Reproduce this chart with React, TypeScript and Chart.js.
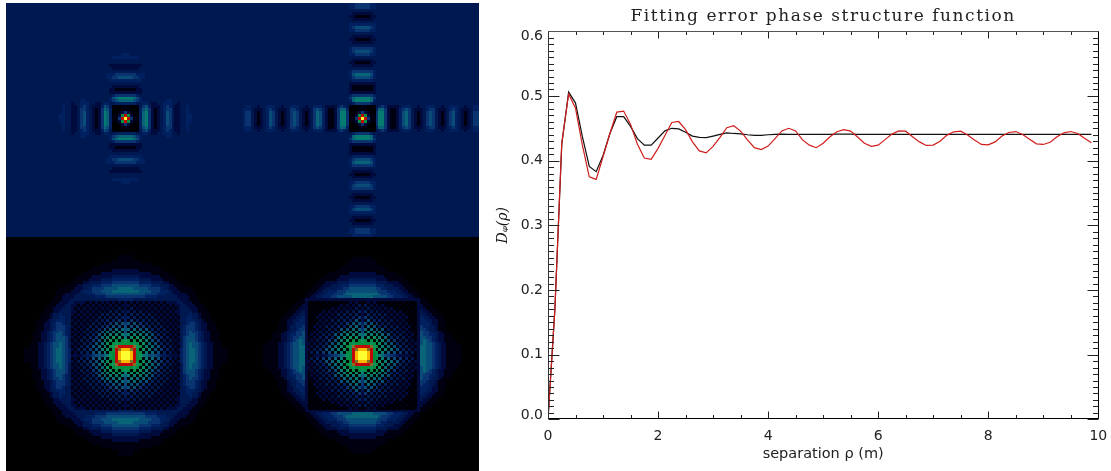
import React, { useEffect, useRef } from "react";
import { Chart, registerables } from "chart.js";

Chart.register(...registerables);

// Heat-map colour levels, indexed by the hex digit stored in the panel rows
const LEVEL_COLORS = [
  "#000000", "#000010", "#000a3c", "#001850", "#002060", "#0a3470", "#0a4c78", "#0a6478",
  "#067c70", "#089060", "#009040", "#807020", "#c00808", "#e06000", "#f8b800", "#ffff30",
];

// Panels hold one octant of each image: row a, chars for b = a, a+1, ...
const PANEL_TOP_LEFT = [
  "fc51147852123465322334433",
  "a211478521234653223344",
  "10047852123465322334",
  "00467521234553223343",
  "135642223454322334",
  "34432233444332333",
  "33333333443333",
];
const PANEL_TOP_RIGHT = [
  "fc511588521124675321235653212356432123554",
  "a211588521124675321235653212356432123554",
  "100588521124675321235653212356432123554",
  "00477521124565322234553222345432223444",
  "1345422223444332334443323344433233443",
];
const PANEL_BOTTOM_LEFT = [
  "ffeca98766654332222" + "4567765432211111000000",
  "fecaa1817161413121" + "4567765432211111000000",
  "bca09081615141312" + "4567765432211111000000",
  "b9a0807161413121" + "3567665432211100000000",
  "a09070614131212" + "3567665432211100000000",
  "90806151313121" + "3566654322111000000000",
  "8071514131212" + "3566654322111000000000",
  "706141312121" + "3456654322111000000000",
  "61413131212" + "3456554322111000000000",
  "4131312121" + "3455543221110000000000",
  "313121212" + "3455543221110000000000",
  "31212121" + "3345543221110000000000",
  "2121212" + "3344433211100000000000",
  "212121" + "3344332111000000000000",
  "21212" + "3334332111000000000000",
  "2122" + "3333221110000000000000",
  "212" + "3332221110000000000000",
  "22" + "3322211100000000000000",
  "3" + "3222111000000000000000",
  "2221110000000000000000",
  "221110000000000000000",
  "11100000000000000000",
  "1100000000000000000",
];
const PANEL_BOTTOM_RIGHT = [
  "ffeca98765543222211" + "2776654322111110000000",
  "fecaa1817161514131" + "2776654322111110000000",
  "bca09080716141312" + "2776654322111110000000",
  "b9a0807061413121" + "2776654322111110000000",
  "a09070604131212" + "2676654322111100000000",
  "90806051313121" + "2676543221111000000000",
  "8070414131211" + "2665543221110000000000",
  "706131312120" + "2655443221110000000000",
  "40413131211" + "2655433211100000000000",
  "3131212110" + "2554332111000000000000",
  "313121201" + "2544332111000000000000",
  "21212010" + "2444322111000000000000",
  "2120101" + "2443322110000000000000",
  "212010" + "2433221110000000000000",
  "20101" + "2332211100000000000000",
  "1010" + "2322111000000000000000",
  "101" + "2221110000000000000000",
  "10" + "2211100000000000000000",
  "1" + "2111000000000000000000",
  "2110000000000000000000",
];

// Phase structure function, sampled every 0.125 m
const SEPARATION = [
  0, 0.125, 0.25, 0.375, 0.5, 0.625, 0.75, 0.875, 1, 1.125, 1.25, 1.375, 1.5, 1.625, 1.75, 1.875,
  2, 2.125, 2.25, 2.375, 2.5, 2.625, 2.75, 2.875, 3, 3.125, 3.25, 3.375, 3.5, 3.625, 3.75, 3.875,
  4, 4.125, 4.25, 4.375, 4.5, 4.625, 4.75, 4.875, 5, 5.125, 5.25, 5.375, 5.5, 5.625, 5.75, 5.875,
  6, 6.125, 6.25, 6.375, 6.5, 6.625, 6.75, 6.875, 7, 7.125, 7.25, 7.375, 7.5, 7.625, 7.75, 7.875,
  8, 8.125, 8.25, 8.375, 8.5, 8.625, 8.75, 8.875, 9, 9.125, 9.25, 9.375, 9.5, 9.625, 9.75, 9.875,
];
const BLACK_CURVE = [
  0, 0.17, 0.425, 0.506, 0.489, 0.437, 0.391, 0.383, 0.408, 0.442, 0.468, 0.468, 0.453, 0.434, 0.424, 0.424,
  0.435, 0.446, 0.45, 0.449, 0.444, 0.438, 0.436, 0.4355, 0.438, 0.4405, 0.443, 0.442, 0.4415, 0.44, 0.439, 0.439,
  0.44, 0.4405, 0.441, 0.4405, 0.4405, 0.4405, 0.4405, 0.4405, 0.4405, 0.4405, 0.441, 0.441, 0.441, 0.4405, 0.4405, 0.4405,
  0.4405, 0.4405, 0.4405, 0.4405, 0.4405, 0.4405, 0.4405, 0.4405, 0.4405, 0.4405, 0.4405, 0.4405, 0.4405, 0.4405, 0.4405, 0.4405,
  0.4405, 0.4405, 0.4405, 0.4405, 0.4405, 0.4405, 0.4405, 0.4405, 0.4405, 0.4405, 0.4405, 0.4405, 0.4405, 0.4405, 0.4405, 0.4405,
];
const RED_CURVE = [
  0, 0.17, 0.427, 0.503, 0.481, 0.424, 0.375, 0.371, 0.406, 0.442, 0.475, 0.4766, 0.456, 0.4255, 0.404, 0.402,
  0.419, 0.439, 0.459, 0.4605, 0.448, 0.429, 0.415, 0.412, 0.422, 0.436, 0.451, 0.454, 0.4456, 0.432, 0.42, 0.417,
  0.4225, 0.434, 0.446, 0.45, 0.446, 0.432, 0.424, 0.42, 0.427, 0.437, 0.4446, 0.448, 0.4456, 0.4365, 0.427, 0.422,
  0.424, 0.4325, 0.441, 0.446, 0.4455, 0.437, 0.429, 0.4235, 0.424, 0.43, 0.4395, 0.4446, 0.4456, 0.4395, 0.432, 0.425,
  0.4245, 0.429, 0.438, 0.4435, 0.445, 0.4405, 0.433, 0.426, 0.425, 0.4285, 0.437, 0.443, 0.445, 0.442, 0.4345, 0.4275,
];

const TITLE = "Fitting error phase structure function";
const X_TITLE = "separation ρ (m)";
const Y_TITLE = "Dᵩ(ρ)";

type Cell = { x: number; y: number; v: number };

function panelCells(rows: string[], col0: number, row0: number, centerRow: number, bg: string): Cell[] {
  const out: Cell[] = [];
  for (let r = 0; r < 80; r++) {
    for (let c = 0; c < 80; c++) {
      const dx = Math.abs(c - 40);
      const dy = Math.abs(r - centerRow);
      const a = Math.min(dx, dy);
      const b = Math.max(dx, dy);
      const ch = rows[a]?.[b - a] ?? bg;
      out.push({ x: col0 + c + 0.5, y: row0 + r + 0.5, v: parseInt(ch, 16) });
    }
  }
  return out;
}

// Aligns the scale-placed cell squares to the pixel grid so they stay crisp and seamless
const snapCells = {
  id: "snapCells",
  afterDatasetsUpdate(chart: any) {
    chart.data.datasets.forEach((_: any, i: number) => {
      for (const el of chart.getDatasetMeta(i).data) {
        el.x = Math.floor(el.x) + 0.5;
        el.y = Math.floor(el.y) + 0.5;
      }
    });
  },
};

const frameTicks = {
  id: "frameTicks",
  afterLayout(chart: any) {
    const yScale = chart.scales.y;
    for (const item of yScale.getLabelItems(chart.chartArea)) {
      if (item.label === "0.0") item.options.translation[1] -= 4;
      if (item.label === "0.6") item.options.translation[1] += 5;
    }
  },
  beforeDraw(chart: any) {
    const block = chart.titleBlock;
    if (block && !block.__spaced) {
      block.__spaced = true;
      const draw = block.draw;
      block.draw = function (...args: any[]) {
        chart.ctx.letterSpacing = "1.55px";
        draw.apply(this, args);
        chart.ctx.letterSpacing = "0px";
      };
    }
  },
  afterDraw(chart: any) {
    const { ctx, chartArea } = chart;
    const { left, right, top, bottom } = chartArea;
    const L = Math.round(left) + 0.5;
    const R = Math.round(right) + 0.5;
    const T = Math.round(top) + 0.5;
    const B = Math.round(bottom) - 0.5;
    ctx.save();
    ctx.lineWidth = 1;
    const seg = (x1: number, y1: number, x2: number, y2: number, color: string) => {
      ctx.strokeStyle = color;
      ctx.beginPath();
      ctx.moveTo(x1, y1);
      ctx.lineTo(x2, y2);
      ctx.stroke();
    };
    for (const t of chart.scales.x.ticks) {
      const p = Math.round(chart.scales.x.getPixelForValue(t.value)) + 0.5;
      const len = Math.round(t.value * 100) % 200 === 0 ? 7 : 3.5;
      seg(p, B, p, B - len, "#222");
      seg(p, T, p, T + len, "#222");
    }
    for (const t of chart.scales.y.ticks) {
      const p = Math.round(chart.scales.y.getPixelForValue(t.value)) + 0.5;
      const len = Math.round(t.value * 100) % 10 === 0 ? 11 : 5.5;
      seg(L, p, L + len, p, "#222");
      seg(R, p, R - len, p, "#222");
    }
    seg(L, T, L, B, "#333");
    seg(L, B, R, B, "#000");
    seg(R, T, R, B, "#000");
    seg(L, T, R, T, "#555");
    ctx.restore();
  },
};

export default function App() {
  const mapRef = useRef<HTMLCanvasElement>(null);
  const lineRef = useRef<HTMLCanvasElement>(null);

  useEffect(() => {
    const cellStyle = {
      parsing: false,
      normalized: true,
      pointStyle: "rect",
      pointRadius: 2.1214,
      pointBorderWidth: 0,
      pointBackgroundColor: (ctx: any) => LEVEL_COLORS[ctx.raw?.v ?? 0],
      showLine: false,
    };
    const map = new Chart(mapRef.current!, {
      type: "scatter",
      data: {
        datasets: [
          { label: "top left", data: panelCells(PANEL_TOP_LEFT, 0, 0, 39, "3"), ...cellStyle },
          { label: "top right", data: panelCells(PANEL_TOP_RIGHT, 80, 0, 39, "3"), ...cellStyle },
          { label: "bottom left", data: panelCells(PANEL_BOTTOM_LEFT, 0, 80, 40, "0"), ...cellStyle },
          { label: "bottom right", data: panelCells(PANEL_BOTTOM_RIGHT, 80, 80, 40, "0"), ...cellStyle },
        ] as any,
      },
      options: {
        responsive: false,
        animation: false,
        events: [],
        layout: { padding: 0, autoPadding: false },
        plugins: { legend: { display: false }, tooltip: { enabled: false } },
        scales: {
          x: { type: "linear", min: 0, max: 160, display: false },
          y: { type: "linear", min: 0, max: 160, reverse: true, display: false },
        },
      },
      plugins: [snapCells],
    });

    const tickFont = { family: "'DejaVu Sans'", size: 14 };
    const line = new Chart(lineRef.current!, {
      type: "scatter",
      data: {
        datasets: [
          {
            label: "black",
            data: SEPARATION.map((x, i) => ({ x, y: BLACK_CURVE[i] })),
            borderColor: "#111111",
            borderWidth: 1.2,
            showLine: true,
            pointRadius: 0,
            tension: 0,
            order: 2,
          },
          {
            label: "red",
            data: SEPARATION.map((x, i) => ({ x, y: RED_CURVE[i] })),
            borderColor: "#d01c1c",
            borderWidth: 1.2,
            showLine: true,
            pointRadius: 0,
            tension: 0,
            order: 1,
          },
        ],
      },
      options: {
        responsive: false,
        animation: false,
        events: [],
        layout: { padding: { right: 12.7 }, autoPadding: false },
        plugins: {
          legend: { display: false },
          tooltip: { enabled: false },
          title: {
            display: true,
            text: TITLE,
            fullSize: false,
            color: "#222",
            font: { family: "'DejaVu Serif'", size: 17, weight: "normal" },
            padding: { top: 6.5, bottom: 4.4 },
          },
        },
        scales: {
          x: {
            type: "linear",
            min: 0,
            max: 10,
            afterFit: (s: any) => {
              s.height = 51.7;
              s.paddingRight = 0;
              s.paddingLeft = 0;
            },
            grid: { display: false, drawTicks: false },
            border: { display: false },
            ticks: {
              stepSize: 0.5,
              autoSkip: false,
              maxRotation: 0,
              padding: 9,
              color: "#222",
              font: tickFont,
              callback: (v: any) => (Math.round(v * 100) % 200 === 0 ? String(v) : ""),
            },
            title: {
              display: true,
              text: X_TITLE,
              color: "#222",
              font: { family: "'DejaVu Sans'", size: 14.5 },
              padding: { top: 0, bottom: 8 },
            },
          },
          y: {
            type: "linear",
            min: 0,
            max: 0.6,
            afterFit: (s: any) => { s.width = 58; },
            grid: { display: false, drawTicks: false },
            border: { display: false },
            ticks: {
              stepSize: 0.01,
              precision: 2,
              autoSkip: false,
              padding: 5,
              color: "#222",
              font: tickFont,
              callback: (v: any) => (Math.round(v * 100) % 10 === 0 ? Number(v).toFixed(1) : ""),
            },
            title: {
              display: true,
              text: Y_TITLE,
              color: "#111",
              font: { family: "'DejaVu Serif'", size: 14, style: "italic" },
              padding: { top: 5, bottom: 0 },
            },
          },
        },
      },
      plugins: [frameTicks],
    });
    return () => {
      map.destroy();
      line.destroy();
    };
  }, []);

  return (
    <div style={{ position: "absolute", left: 0, top: 0, width: 1111, height: 471, overflow: "hidden", background: "#fff" }}>
      <canvas ref={mapRef} width={473} height={468} style={{ position: "absolute", left: 6, top: 3 }} />
      <canvas ref={lineRef} width={621} height={471} style={{ position: "absolute", left: 490, top: 0 }} />
    </div>
  );
}
